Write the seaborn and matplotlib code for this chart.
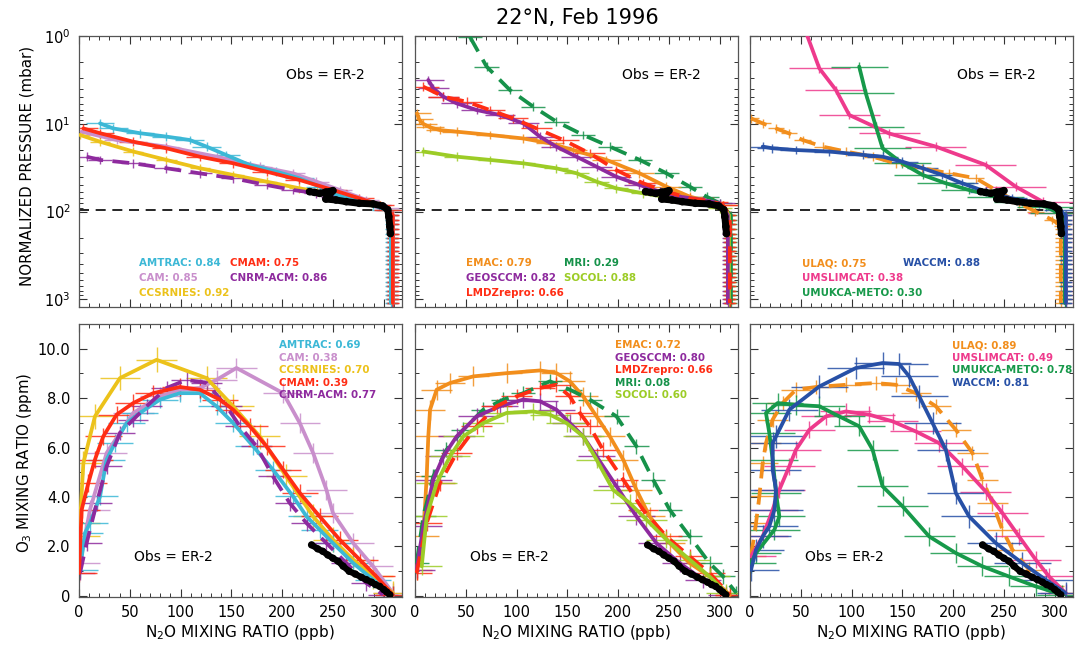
import numpy as np
import pandas as pd
import matplotlib
matplotlib.use("Agg")
import matplotlib.pyplot as plt
import seaborn as sns
from matplotlib.ticker import MultipleLocator, FixedLocator, FixedFormatter, NullFormatter

# ------------------------------------------------------------------ data
TROP_P = [110, 125, 140, 160, 180, 200, 225, 250, 280, 320, 360, 400, 450,
          500, 560, 630, 700, 800, 900, 1000, 1100]

OBS_TOP_X = [227, 232, 237, 243, 250, 246, 243, 253, 263, 276, 289.5, 299, 304, 305, 306, 306.6]
OBS_TOP_P = [59.3, 60.5, 62, 60, 57.8, 66, 72, 73.8, 77.1, 80.5, 81.8, 86.3, 95.5, 114, 148, 178]
OBS_BOT_X = [229, 235, 240, 245, 250, 255, 260, 266, 272, 278, 283, 288, 292, 296, 300, 303, 306]
OBS_BOT_O3 = [2.06, 1.9, 1.8, 1.65, 1.52, 1.4, 1.2, 0.99, 0.88, 0.75, 0.65, 0.55, 0.45, 0.38, 0.25, 0.15, 0.04]
TROPOPAUSE_P = 95

# --- panel 1 models
AMTRAC_TOP_X = [20.7, 33.8, 60, 86, 109, 125.6, 145, 168, 194, 217, 237, 250, 270, 289.5, 302.6]
AMTRAC_TOP_P = [9.9, 11.3, 12.8, 14, 15.3, 18.2, 22.7, 29.5, 35, 41.8, 52, 62, 73.8, 84, 95.6]
AMTRAC_BOT_X = [1, 5.9, 10.8, 20.7, 27.2, 35.4, 46.9, 60, 79.7, 99.3, 119, 135.4, 151.8, 171.5, 191, 210.8, 224, 237, 250, 270, 289.5, 309]
AMTRAC_BOT_O3 = [1.05, 2.54, 2.94, 4.02, 5.51, 6.18, 6.99, 7.4, 7.94, 8.2, 8.2, 7.67, 6.99, 6.05, 5.1, 4.02, 3.21, 2.67, 2.13, 1.32, 0.65, 0.04]

CAM_TOP_X = [2.6, 37, 86, 135.4, 178, 210.8, 233.8, 256.7, 283, 302.6]
CAM_TOP_P = [12.3, 15.3, 18.2, 23.7, 30.8, 36.7, 45.6, 56.8, 73.8, 91.8]
CAM_BOT_X = [1, 10.8, 27.2, 53.4, 79.7, 99.3, 119, 135.4, 155, 201, 217.4, 230.5, 243.6, 250, 270, 289.5, 309]
CAM_BOT_O3 = [1.32, 3.48, 5.78, 7.4, 8.07, 8.34, 8.41, 8.74, 9.22, 8.2, 6.99, 5.78, 4.29, 3.35, 2.13, 1.19, 0.11]

CCSRNIES_TOP_X = [1, 20.7, 53.4, 86, 119, 152, 184.6, 217, 234, 250, 276, 296, 304]
CCSRNIES_TOP_P = [13.4, 16, 20.7, 25.8, 32.1, 38.3, 45.6, 54.3, 59.3, 64.7, 75, 86, 96]
CCSRNIES_BOT_X = [0.5, 1, 4.3, 15.7, 40.3, 76.4, 125.6, 151.8, 178, 204, 230.5, 250, 270, 289.5, 309]
CCSRNIES_BOT_O3 = [2.4, 2.94, 5.37, 7.26, 8.81, 9.55, 8.81, 7.67, 6.45, 4.83, 3.21, 2.27, 1.46, 0.78, 0.11]

CMAM_TOP_X = [4.3, 20.7, 53.4, 86, 119, 152, 184.6, 217, 250, 276, 296, 304]
CMAM_TOP_P = [11.3, 12.8, 16.0, 19.0, 23.7, 28.2, 35.1, 43.6, 56.8, 70.6, 84.1, 95.5]
CMAM_BOT_X = [0, 2.6, 9.2, 15.7, 23.9, 37, 53.4, 73, 99.3, 119, 138.7, 151.8, 168.2, 184.6, 201, 217.4, 237, 256.7, 276.4, 292.8, 309]
CMAM_BOT_O3 = [0.92, 3.48, 4.56, 5.51, 6.45, 7.33, 7.8, 8.2, 8.45, 8.34, 7.94, 7.53, 6.86, 6.05, 5.1, 4.16, 3.21, 2.27, 1.46, 0.78, 0.04]

CNRM_TOP_X = [7.5, 20.7, 53.4, 86, 119, 152, 184.6, 210.8, 233.8, 250, 275, 295, 304]
CNRM_TOP_P = [23.7, 25.8, 28.2, 32.1, 36.7, 41.8, 49.8, 56.8, 61.9, 67.6, 74, 85, 96]
CNRM_BOT_X = [1, 7.5, 17.4, 27.2, 40.3, 53.4, 66.6, 86.2, 105.9, 125.6, 145.2, 158.4, 174.8, 191, 207.5, 224, 243.6, 263.3, 283, 299.3]
CNRM_BOT_O3 = [0.92, 2.13, 3.75, 5.24, 6.59, 7.13, 7.67, 8.41, 8.74, 8.61, 7.67, 6.86, 6.05, 4.83, 3.75, 2.94, 2.13, 1.32, 0.51, 0.04]

# --- panel 2 models
EMAC_TOP_X = [2, 4, 8, 15, 24.6, 41, 73.8, 106.6, 132.8, 155.7, 188.5, 221, 247.5, 270.5, 290, 303]
EMAC_TOP_P = [7.6, 8.9, 10, 11, 11.8, 12.3, 13.4, 14.7, 16.7, 19.9, 25.8, 36.6, 52, 67.6, 77.1, 84.1]
EMAC_BOT_X = [1.6, 8.2, 11.5, 13.1, 14.8, 21.3, 34.4, 57.4, 90.2, 123, 139.3, 152.5, 165.6, 178.7, 191.8, 205, 218, 231, 250.8, 270.5, 290, 310]
EMAC_BOT_O3 = [1.05, 2.4, 4.83, 6.45, 7.53, 8.34, 8.61, 8.88, 9.01, 9.12, 9.01, 8.68, 8.07, 7.26, 6.45, 5.51, 4.29, 3.21, 2.13, 1.32, 0.78, 0.04]

GEOSCCM_TOP_X = [13.1, 18, 27.9, 41, 60.7, 83.6, 106.6, 123, 139, 159, 178.7, 198, 221, 241, 260.7, 283.6, 300]
GEOSCCM_TOP_P = [3.17, 3.94, 4.91, 5.85, 6.97, 7.94, 9.89, 14.0, 18.2, 23.7, 30.8, 40.0, 49.8, 59.3, 67.6, 73.8, 80.5]
GEOSCCM_BOT_X = [1.6, 8.2, 18, 27.9, 41, 60.7, 83.6, 106.6, 123, 139.3, 152.5, 165.6, 178.7, 198.4, 218, 237.7, 260.7, 283.6, 306.6]
GEOSCCM_BOT_O3 = [1.05, 2.81, 4.7, 5.64, 6.45, 7.26, 7.67, 7.94, 7.87, 7.53, 6.99, 6.45, 5.64, 4.43, 3.21, 2.13, 1.32, 0.65, 0.04]

LMDZ_TOP_X = [8.2, 27.9, 50.8, 73.8, 96.7, 119.7, 146, 172, 198, 224.6, 247.5, 270.5, 293, 303]
LMDZ_TOP_P = [3.78, 4.91, 5.6, 6.97, 8.67, 11.3, 15.3, 21.7, 33.6, 47.6, 59.3, 70.6, 77.1, 84.1]
LMDZ_BOT_X = [1.6, 11.5, 24.6, 41, 60.7, 80.3, 100, 123, 139.3, 152.5, 162.3, 172, 185, 205, 224.6, 247.5, 270.5, 290, 310]
LMDZ_BOT_O3 = [0.92, 2.94, 4.56, 5.78, 6.86, 7.67, 8.07, 8.41, 8.54, 8.07, 7.4, 6.86, 5.91, 4.7, 3.48, 2.4, 1.59, 0.92, 0.04]

MRI_TOP_X = [54, 70.5, 93.4, 116.4, 139.3, 165.6, 191.8, 221.3, 247.5, 270.5, 287, 300]
MRI_TOP_P = [1.02, 2.23, 4.12, 6.38, 9.46, 13.4, 18.2, 25.8, 36.6, 52, 67.6, 80.5]
MRI_BOT_X = [1.6, 8.2, 18, 31, 47.5, 67.2, 86.9, 106.6, 132.8, 152.5, 172, 198.4, 218, 234.4, 250.8, 270.5, 290, 303.3, 316.4]
MRI_BOT_O3 = [1.32, 3.21, 4.83, 5.91, 6.72, 7.53, 7.94, 8.2, 8.68, 8.34, 7.94, 7.26, 6.05, 4.7, 3.48, 2.4, 1.32, 0.78, 0.11]

SOCOL_TOP_X = [8.2, 41, 73.8, 106.6, 139, 159, 178.7, 198, 224.6, 254, 277, 300]
SOCOL_TOP_P = [20.7, 23.7, 25.8, 28.2, 32.1, 36.6, 45.6, 54.3, 61.9, 70.6, 77.1, 91.8]
SOCOL_BOT_X = [6.6, 11.5, 21.3, 34.4, 47.5, 67.2, 90.2, 116.4, 132.8, 149.2, 165.6, 178.7, 195, 211.5, 227.9, 247.5, 270.5, 290, 306.6]
SOCOL_BOT_O3 = [1.19, 3.21, 4.56, 5.64, 6.45, 6.99, 7.4, 7.46, 7.33, 6.99, 6.45, 5.51, 4.29, 3.75, 3.08, 2.27, 1.46, 0.78, 0.11]

# --- panel 3 models
ULAQ_TOP_X = [1, 12.5, 25.6, 38.7, 51.8, 71.5, 94.4, 120.7, 143.6, 169.8, 196, 222.3, 242, 265, 281, 297.7, 307.5]
ULAQ_TOP_P = [8.67, 9.89, 11.3, 12.9, 15.3, 18.2, 20.7, 23.7, 28.2, 32.1, 36.6, 41.8, 56.8, 80.5, 100, 124.7, 147.9]
ULAQ_BOT_X = [1, 5.9, 9.2, 12.5, 15.7, 22.3, 32.1, 45.2, 64.9, 94.4, 124, 143.6, 163.3, 183, 202.6, 219, 228.9, 238.7, 248.5, 258.4, 274.8, 294.4, 307.5]
ULAQ_BOT_O3 = [1.59, 2.94, 4.02, 5.37, 6.18, 7.13, 7.8, 8.34, 8.45, 8.54, 8.61, 8.54, 8.2, 7.67, 6.72, 5.78, 4.7, 3.75, 2.67, 1.86, 1.05, 0.38, 0.11]

UMSLIMCAT_TOP_X = [55, 68.2, 84.6, 97.7, 137, 183, 232, 261.6, 288, 304]
UMSLIMCAT_TOP_P = [0.9, 2.33, 4.12, 7.94, 12.9, 18.2, 29.4, 52, 77.1, 104.7]
UMSLIMCAT_BOT_X = [1, 12.5, 22.3, 28.9, 38.7, 45.2, 58.4, 74.8, 94.4, 117.4, 140.3, 163.3, 186.2, 209.2, 232.1, 248.5, 264.9, 281.3, 294.4, 310.8]
UMSLIMCAT_BOT_O3 = [1.59, 2.4, 3.48, 4.29, 5.24, 5.91, 6.72, 7.26, 7.46, 7.33, 7.06, 6.65, 6.18, 5.24, 4.22, 3.35, 2.4, 1.46, 0.78, 0.11]

UMUKCA_TOP_X = [107.5, 114, 124, 130.5, 150, 170, 192.8, 215.7, 242, 268, 291, 304]
UMUKCA_TOP_P = [2.23, 4.5, 10.8, 19, 28.2, 38.3, 47.6, 56.8, 67.6, 77.1, 87.9, 104.7]
UMUKCA_BOT_X = [1, 5.9, 24, 28.9, 25.6, 22.3, 19, 15.7, 27.2, 45.2, 68.2, 87.9, 107.5, 120.7, 130.5, 150.2, 176.4, 202.6, 228.9, 255, 281.3, 307.5]
UMUKCA_BOT_O3 = [1.32, 1.73, 2.67, 3.21, 4.16, 5.51, 6.59, 7.4, 7.8, 7.73, 7.67, 7.26, 6.86, 5.91, 4.43, 3.62, 2.4, 1.73, 1.19, 0.78, 0.38, 0.04]

WACCM_TOP_X = [12.5, 22, 45, 78, 110.8, 130.5, 150, 170, 189.5, 209, 232, 258, 284.6, 304]
WACCM_TOP_P = [18.2, 19.0, 19.9, 20.7, 22.6, 23.7, 27.0, 32.1, 38.3, 47.6, 59.3, 70.6, 80.5, 95.5]
WACCM_BOT_X = [1, 5.9, 12.5, 19, 24, 25.6, 22.3, 22.3, 25.6, 38.7, 68.2, 104.3, 130.5, 146.9, 156.7, 166.6, 179.7, 192.8, 202.6, 215.7, 242, 268.2, 291, 310.8]
WACCM_BOT_O3 = [1.05, 1.86, 2.4, 2.81, 3.48, 4.29, 5.1, 6.18, 6.45, 7.53, 8.47, 9.22, 9.42, 9.38, 8.88, 8.07, 6.99, 5.91, 4.16, 3.21, 2.13, 1.32, 0.65, 0.11]

# model, colour, dashed, column, top x/p, surface N2O, bottom x/o3, scores (top, bottom), errors
MODELS = [
    ("AMTRAC", "#3cb8d6", False, 0, AMTRAC_TOP_X, AMTRAC_TOP_P, 307, AMTRAC_BOT_X, AMTRAC_BOT_O3, "0.84", "0.69", 14, 18, 0.35),
    ("CAM", "#c98fcc", False, 0, CAM_TOP_X, CAM_TOP_P, 309, CAM_BOT_X, CAM_BOT_O3, "0.85", "0.38", 12, 20, 0.4),
    ("CCSRNIES", "#ecc21a", False, 0, CCSRNIES_TOP_X, CCSRNIES_TOP_P, 308, CCSRNIES_BOT_X, CCSRNIES_BOT_O3, "0.92", "0.70", 10, 20, 0.5),
    ("CMAM", "#ff2d14", False, 0, CMAM_TOP_X, CMAM_TOP_P, 309, CMAM_BOT_X, CMAM_BOT_O3, "0.75", "0.39", 14, 18, 0.35),
    ("CNRM-ACM", "#8e2a9e", True, 0, CNRM_TOP_X, CNRM_TOP_P, 308, CNRM_BOT_X, CNRM_BOT_O3, "0.86", "0.77", 12, 15, 0.3),
    ("EMAC", "#f28e1c", False, 1, EMAC_TOP_X, EMAC_TOP_P, 309, EMAC_BOT_X, EMAC_BOT_O3, "0.79", "0.72", 14, 15, 0.4),
    ("GEOSCCM", "#8e2a9e", False, 1, GEOSCCM_TOP_X, GEOSCCM_TOP_P, 308, GEOSCCM_BOT_X, GEOSCCM_BOT_O3, "0.82", "0.80", 15, 18, 0.35),
    ("LMDZrepro", "#ff2d14", True, 1, LMDZ_TOP_X, LMDZ_TOP_P, 310, LMDZ_BOT_X, LMDZ_BOT_O3, "0.66", "0.66", 15, 15, 0.3),
    ("MRI", "#16924a", True, 1, MRI_TOP_X, MRI_TOP_P, 311, MRI_BOT_X, MRI_BOT_O3, "0.29", "0.08", 12, 12, 0.3),
    ("SOCOL", "#9ccc26", False, 1, SOCOL_TOP_X, SOCOL_TOP_P, 309, SOCOL_BOT_X, SOCOL_BOT_O3, "0.88", "0.60", 12, 20, 0.35),
    ("ULAQ", "#f28e1c", True, 2, ULAQ_TOP_X, ULAQ_TOP_P, 306, ULAQ_BOT_X, ULAQ_BOT_O3, "0.75", "0.89", 8, 15, 0.3),
    ("UMSLIMCAT", "#ee3a8c", False, 2, UMSLIMCAT_TOP_X, UMSLIMCAT_TOP_P, 311, UMSLIMCAT_BOT_X, UMSLIMCAT_BOT_O3, "0.38", "0.49", 30, 25, 0.35),
    ("UMUKCA-METO", "#17994a", False, 2, UMUKCA_TOP_X, UMUKCA_TOP_P, 310, UMUKCA_BOT_X, UMUKCA_BOT_O3, "0.30", "0.78", 28, 25, 0.4),
    ("WACCM", "#2750a6", False, 2, WACCM_TOP_X, WACCM_TOP_P, 311, WACCM_BOT_X, WACCM_BOT_O3, "0.88", "0.81", 15, 28, 0.45),
]

TOP_ORDER = [["CAM", "CCSRNIES", "CNRM-ACM", "AMTRAC", "CMAM"],
             ["MRI", "EMAC", "SOCOL", "GEOSCCM", "LMDZrepro"],
             ["ULAQ", "UMSLIMCAT", "UMUKCA-METO", "WACCM"]]
BOT_ORDER = [["CAM", "CCSRNIES", "AMTRAC", "CNRM-ACM", "CMAM"],
             ["EMAC", "MRI", "GEOSCCM", "LMDZrepro", "SOCOL"],
             ["ULAQ", "UMSLIMCAT", "UMUKCA-METO", "WACCM"]]
TOP_LEGEND = [[("AMTRAC", 0, 0), ("CMAM", 1, 0), ("CAM", 0, 1), ("CNRM-ACM", 1, 1), ("CCSRNIES", 0, 2)],
              [("EMAC", 0, 0), ("MRI", 1, 0), ("GEOSCCM", 0, 1), ("SOCOL", 1, 1), ("LMDZrepro", 0, 2)],
              [("ULAQ", 0, 0), ("WACCM", 1, 0), ("UMSLIMCAT", 0, 1), ("UMUKCA-METO", 0, 2)]]
BOT_LEGEND = [["AMTRAC", "CAM", "CCSRNIES", "CMAM", "CNRM-ACM"],
              ["EMAC", "GEOSCCM", "LMDZrepro", "MRI", "SOCOL"],
              ["ULAQ", "UMSLIMCAT", "UMUKCA-METO", "WACCM"]]

XTICKS = [0, 50, 100, 150, 200, 250, 300]
O3_TICKS = [0, 2, 4, 6, 8, 10]
O3_LABELS = ["0", "2.0", "4.0", "6.0", "8.0", "10.0"]
P_TICKS = [1, 10, 100, 1000]
P_LABELS = [r"$10^0$", r"$10^1$", r"$10^2$", r"$10^3$"]

# ------------------------------------------------------------------ style
sns.set_style("ticks")
plt.rcParams["font.family"] = ["DejaVu Sans"]
plt.rcParams["axes.linewidth"] = 0.9
plt.rcParams["text.color"] = "black"
plt.rcParams["xtick.color"] = "black"
plt.rcParams["ytick.color"] = "black"

W, H = 1077, 645
fig = plt.figure(figsize=(W / 100, H / 100), dpi=100)


def add_ax(l, t, w, h):
    return fig.add_axes([l / W, 1 - (t + h) / H, w / W, h / H])


lefts = [79, 415, 750]
top_axes = [add_ax(l, 36, 323, 271) for l in lefts]
bot_axes = [add_ax(l, 324, 323, 273) for l in lefts]

spec = {m[0]: m for m in MODELS}
LW = 2.7
DASH = (0, (4.5, 2.5))
VERR = 10 ** 0.05

for col, ax in enumerate(top_axes):
    ax.set_yscale("log")
    for name in TOP_ORDER[col]:
        (_, color, dashed, _, tx, tp, surf, bx, bo, st, sb, txe, bxe, bye) = spec[name]
        x = list(tx) + [surf] * len(TROP_P)
        p = list(tp) + list(TROP_P)
        xe = [txe] * len(tx) + [6] * len(TROP_P)
        p = np.array(p, dtype=float)
        ax.errorbar(x, p, xerr=xe, yerr=[p - p / VERR, p * VERR - p], fmt="none",
                    ecolor=color, elinewidth=1.0, alpha=0.85, zorder=2)
        df = pd.DataFrame({"x": x, "p": p})
        sns.lineplot(data=df, x="x", y="p", sort=False, estimator=None, ax=ax,
                     color=color, lw=LW, linestyle=DASH if dashed else "-", zorder=3)
    ax.axhline(TROPOPAUSE_P, xmin=0, xmax=300 / 318, color="black", lw=1.2,
               linestyle=(0, (6, 4)), zorder=1)
    dfo = pd.DataFrame({"x": OBS_TOP_X, "p": OBS_TOP_P})
    sns.lineplot(data=dfo, x="x", y="p", sort=False, estimator=None, ax=ax,
                 color="black", lw=5, zorder=5)
    sns.scatterplot(data=dfo, x="x", y="p", ax=ax, color="black", s=30,
                    edgecolor="none", zorder=6)
    ax.set_ylim(1222, 1)
    ax.set_xlim(0, 318)
    ax.yaxis.set_major_locator(FixedLocator(P_TICKS))
    if col == 0:
        ax.yaxis.set_major_formatter(FixedFormatter(P_LABELS))
    else:
        ax.yaxis.set_major_formatter(NullFormatter())
    ax.yaxis.set_minor_formatter(NullFormatter())
    ax.xaxis.set_major_locator(FixedLocator(XTICKS))
    ax.xaxis.set_minor_locator(MultipleLocator(10))
    ax.xaxis.set_major_formatter(NullFormatter())
    ax.text(0.762, 0.856, "Obs = ER-2", transform=ax.transAxes, ha="center",
            va="center", fontsize=10, color="black")
    lx = [[0.186, 0.467], [0.158, 0.461], [0.161, 0.474]][col]
    for name, c, r in TOP_LEGEND[col]:
        m = spec[name]
        ax.text(lx[c], 0.162 - r * 0.056, f"{name}: {m[9]}", transform=ax.transAxes,
                ha="left", va="center", fontsize=7.4, fontweight="bold", color=m[1])

for col, ax in enumerate(bot_axes):
    for name in BOT_ORDER[col]:
        (_, color, dashed, _, tx, tp, surf, bx, bo, st, sb, txe, bxe, bye) = spec[name]
        ax.errorbar(bx, bo, xerr=bxe, yerr=bye, fmt="none", ecolor=color,
                    elinewidth=1.0, alpha=0.85, zorder=2)
        df = pd.DataFrame({"x": bx, "o3": bo})
        sns.lineplot(data=df, x="x", y="o3", sort=False, estimator=None, ax=ax,
                     color=color, lw=LW, linestyle=DASH if dashed else "-", zorder=3)
    dfo = pd.DataFrame({"x": OBS_BOT_X, "o3": OBS_BOT_O3})
    sns.lineplot(data=dfo, x="x", y="o3", sort=False, estimator=None, ax=ax,
                 color="black", lw=4.5, zorder=5)
    sns.scatterplot(data=dfo, x="x", y="o3", ax=ax, color="black", s=28,
                    edgecolor="none", zorder=6)
    ax.set_xlim(0, 318)
    ax.set_ylim(-0.05, 11)
    ax.xaxis.set_major_locator(FixedLocator(XTICKS))
    ax.xaxis.set_minor_locator(MultipleLocator(10))
    ax.yaxis.set_major_locator(FixedLocator(O3_TICKS))
    ax.yaxis.set_minor_locator(MultipleLocator(1))
    if col == 0:
        ax.yaxis.set_major_formatter(FixedFormatter(O3_LABELS))
    else:
        ax.yaxis.set_major_formatter(NullFormatter())
    ax.text(0.291, 0.147, "Obs = ER-2", transform=ax.transAxes, ha="center",
            va="center", fontsize=10, color="black")
    lx = [0.619, 0.619, 0.625][col]
    for i, name in enumerate(BOT_LEGEND[col]):
        m = spec[name]
        ax.text(lx, 0.923 - i * 0.0458, f"{name}: {m[10]}", transform=ax.transAxes,
                ha="left", va="center", fontsize=7.4, fontweight="bold", color=m[1])

for ax in top_axes + bot_axes:
    ax.set_xlabel("")
    ax.set_ylabel("")
    ax.tick_params(which="both", direction="in", top=True, right=True,
                   labelsize=10.5, color="#333333", labelcolor="black", pad=6)
    ax.tick_params(which="major", length=6, width=0.8)
    ax.tick_params(which="minor", length=3, width=0.7)
    for s in ax.spines.values():
        s.set_color("#555555")

fig.text(577 / W, 1 - 18 / H, "22°N, Feb 1996", ha="center", va="center",
         fontsize=15, color="black")
fig.text(27 / W, 1 - 166 / H, "NORMALIZED PRESSURE (mbar)", rotation=90,
         ha="center", va="center", fontsize=10.8, color="black")
fig.text(25 / W, 1 - 463 / H, r"O$_3$ MIXING RATIO (ppm)", rotation=90,
         ha="center", va="center", fontsize=10.8, color="black")
for l in lefts:
    fig.text((l + 161) / W, 1 - 632 / H, r"N$_2$O MIXING RATIO (ppb)",
             ha="center", va="center", fontsize=11, color="black")

fig.savefig("out.png", dpi=100)
